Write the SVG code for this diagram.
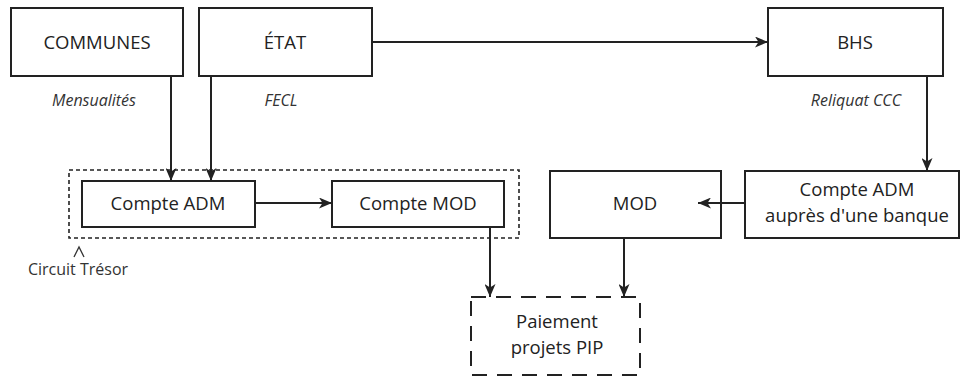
<svg xmlns="http://www.w3.org/2000/svg" width="960" height="378" viewBox="0 0 960 378">
<style>
.box{fill:#fff;stroke:#222;stroke-width:2}
.lbl{font-family:"Open Sans","Liberation Sans",sans-serif;font-size:18.5px;fill:#222;text-anchor:middle}
.it{font-family:"Open Sans","Liberation Sans",sans-serif;font-size:16px;font-style:italic;fill:#333;text-anchor:middle}
.cap{font-family:"Open Sans","Liberation Sans",sans-serif;font-size:16px;fill:#333;text-anchor:middle}
.con{stroke:#222;stroke-width:2;fill:none}
</style>
<defs>
<marker id="ah" viewBox="0 0 13 11" refX="13" refY="5.5" markerWidth="13" markerHeight="11" markerUnits="userSpaceOnUse" orient="auto">
<path d="M0,0 L13,5.5 L0,11 L3.5,5.5 z" fill="#222"/>
</marker>
</defs>
<rect width="960" height="378" fill="#fff"/>
<g id="circuit-tresor">
<rect x="69" y="170" width="450" height="68" fill="none" stroke="#222" stroke-width="1.6" stroke-dasharray="4,3"/>
<polyline points="74,257 79,247 84,257" fill="none" stroke="#333" stroke-width="1.3"/>
<text x="78" y="275" class="cap">Circuit Trésor</text>
</g>
<g id="communes">
<rect class="box" x="11" y="8" width="172" height="68"/>
<text x="97" y="49" class="lbl">COMMUNES</text>
<text x="94" y="106" class="it">Mensualités</text>
</g>
<g id="etat">
<rect class="box" x="199" y="8" width="173" height="68"/>
<text x="285" y="49" class="lbl">ÉTAT</text>
<text x="281" y="106" class="it">FECL</text>
</g>
<g id="bhs">
<rect class="box" x="768" y="8" width="175" height="68"/>
<text x="855" y="49" class="lbl">BHS</text>
<text x="856" y="106" class="it">Reliquat CCC</text>
</g>
<g id="compte-adm">
<rect class="box" x="82" y="181" width="173" height="46"/>
<text x="168" y="210" class="lbl">Compte ADM</text>
</g>
<g id="compte-mod">
<rect class="box" x="332" y="181" width="172" height="46"/>
<text x="418" y="210" class="lbl">Compte MOD</text>
</g>
<g id="mod">
<rect class="box" x="550" y="171" width="171" height="67"/>
<text x="635" y="210" class="lbl">MOD</text>
</g>
<g id="compte-adm-banque">
<rect class="box" x="745" y="171" width="214" height="67"/>
<text x="857" y="196" class="lbl">Compte ADM</text>
<text x="857" y="222" class="lbl">auprès d'une banque</text>
</g>
<g id="paiement">
<rect x="471" y="297" width="169" height="78" fill="#fff" stroke="#222" stroke-width="2" stroke-dasharray="15,10"/>
<text x="557" y="328" class="lbl">Paiement</text>
<text x="557" y="354" class="lbl">projets PIP</text>
</g>
<g id="connectors">
<line class="con" x1="372" y1="42" x2="768" y2="42" marker-end="url(#ah)"/>
<line class="con" x1="171" y1="76" x2="171" y2="181" marker-end="url(#ah)"/>
<line class="con" x1="211" y1="76" x2="211" y2="181" marker-end="url(#ah)"/>
<line class="con" x1="255" y1="203" x2="332" y2="203" marker-end="url(#ah)"/>
<line class="con" x1="927" y1="76" x2="927" y2="171" marker-end="url(#ah)"/>
<line class="con" x1="745" y1="203" x2="698" y2="203" marker-end="url(#ah)"/>
<line class="con" x1="490" y1="227" x2="490" y2="297" marker-end="url(#ah)"/>
<line class="con" x1="624" y1="238" x2="624" y2="297" marker-end="url(#ah)"/>
</g>
</svg>
